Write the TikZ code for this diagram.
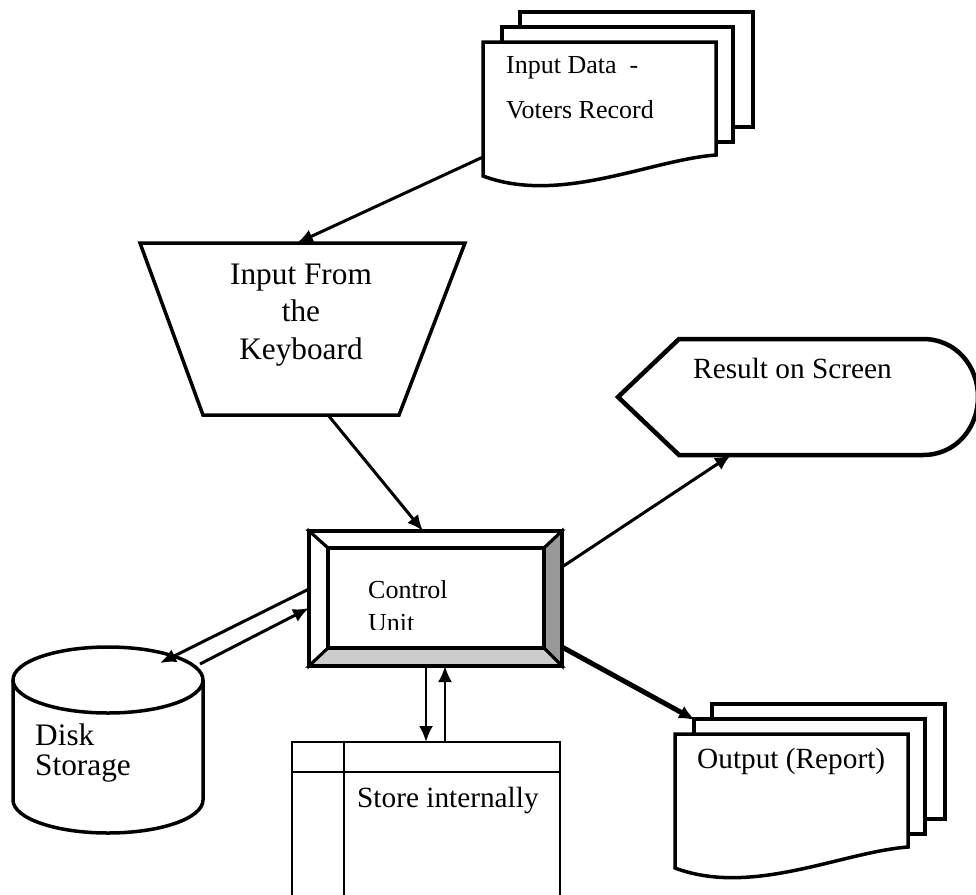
\documentclass[tikz,border=0pt]{standalone}
\usepackage{fontspec}
\setmainfont{Liberation Serif}
\usetikzlibrary{arrows.meta}
\definecolor{sidegray}{gray}{0.6}
\definecolor{basegray}{gray}{0.8}
\begin{document}
\begin{tikzpicture}[x=1pt,y=-1pt,
  outline/.style={line width=3.5pt, line join=miter, fill=white},
  flow/.style={line width=3pt, -{Latex[length=16pt,width=14pt]}},
  txt/.style={inner sep=0pt, anchor=base west},
  small text/.style={font=\fontsize{26}{30}\selectfont},
  mid text/.style={font=\fontsize{29.3}{34}\selectfont},
  big text/.style={font=\fontsize{31.3}{37.5}\selectfont},
  multidoc/.pic={
    \draw[outline] (37,-30) rectangle (270,85);
    \draw[outline] (19,-15) rectangle (250,100);
    \draw[outline] (0,134) -- (0,0) -- (233,0) -- (233,113)
      .. controls (167,118) and (77,163) .. (0,134) -- cycle;
  }]
  \useasboundingbox (0,0) rectangle (976,894);

  % input documents
  \pic at (483,42) {multidoc};
  \node[txt, small text] (indata) at (506,73) {Input Data\ \ -};
  \node[txt, small text] (voters) at (506,118) {Voters Record};

  % keyboard
  \draw[outline] (140,243) -- (465,243) -- (399,415) -- (203,415) -- cycle;
  \node[big text, align=center, inner sep=0pt] (keyboard) at (301,315)
    {Input From\\the\\Keyboard};

  % result on screen
  \draw[outline, line width=4.5pt] (618,397) -- (679,339) -- (923,339)
    .. controls (956,339) and (978,366) .. (978,397)
    .. controls (978,428) and (956,455) .. (923,455)
    -- (679,455) -- cycle;
  \node[txt, mid text] (screen) at (693,378) {Result on Screen};

  % control unit
  \draw[outline, line width=3pt] (309,531) -- (562,531) -- (544,548) -- (328,548) -- cycle;
  \draw[outline, line width=3pt] (309,531) -- (328,548) -- (328,648) -- (309,666) -- cycle;
  \draw[outline, line width=3pt, fill=sidegray] (562,531) -- (562,666) -- (544,648) -- (544,548) -- cycle;
  \draw[outline, line width=3pt, fill=basegray] (309,666) -- (562,666) -- (544,648) -- (328,648) -- cycle;
  \draw[line width=3.5pt] (309,531) rectangle (562,666);
  \draw[line width=3.5pt] (328,548) rectangle (544,648);
  \begin{scope}
    \clip (330,550) rectangle (542,629);
    \node[txt, small text] (control) at (368,598) {Control};
    \node[txt, small text] (unit) at (368,631) {Unit};
  \end{scope}

  % disk storage
  \draw[outline] (13,680) -- (13,800) arc[start angle=180, end angle=0, x radius=95, y radius=33] -- (203,680);
  \draw[outline] (108,680) ellipse [x radius=95, y radius=33];
  \node[txt, big text] (disk) at (35,745) {Disk};
  \node[txt, big text] (storage) at (35,775) {Storage};

  % internal store
  \draw[line width=2pt] (292,900) -- (292,742) -- (560,742) -- (560,900);
  \draw[line width=2pt] (292,772) -- (560,772);
  \draw[line width=2pt] (344,742) -- (344,900);
  \node[txt, mid text] (store) at (357,807) {Store internally};

  % output documents
  \pic at (675,734) {multidoc};
  \node[txt, mid text] (report) at (697,768) {Output (Report)};

  % connectors
  \coordinate (docleft) at (483,157);
  \coordinate (kbdtop) at (297,243);
  \coordinate (kbdbottom) at (328,415);
  \coordinate (cutop) at (423,531);
  \coordinate (curight) at (562,567);
  \coordinate (screenbottom) at (731,455);
  \coordinate (cucorner) at (562,647);
  \coordinate (reporttop) at (695,720);
  \coordinate (cuout) at (309,589);
  \coordinate (diskin) at (160,663);
  \coordinate (diskout) at (200,664);
  \coordinate (cuin) at (309,608);
  \coordinate (cudown) at (426,666);
  \coordinate (storein) at (426,742);
  \coordinate (storeout) at (445,742);
  \coordinate (cuup) at (445,666);

  \draw[flow] (docleft) -- (kbdtop);
  \draw[flow] (kbdbottom) -- (cutop);
  \draw[flow] (curight) -- (screenbottom);
  \draw[flow, line width=5pt] (cucorner) -- (reporttop);
  \draw[flow] (cuout) -- (diskin);
  \draw[flow] (diskout) -- (cuin);
  \draw[flow, line width=2.5pt] (cudown) -- (storein);
  \draw[flow, line width=2.5pt] (storeout) -- (cuup);
\end{tikzpicture}
\end{document}
